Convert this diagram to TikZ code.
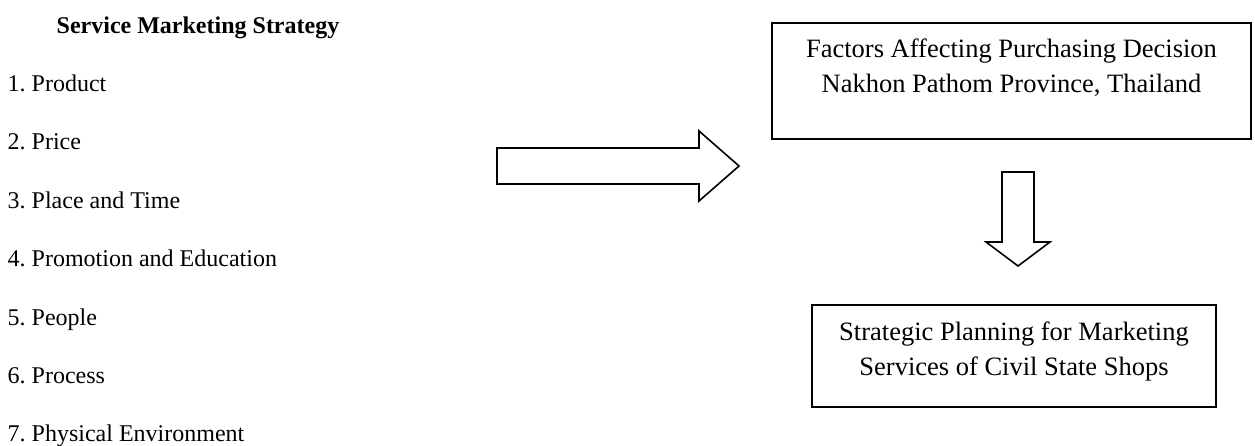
\documentclass[tikz,border=0pt]{standalone}
\usepackage{fontspec}
\setmainfont{Liberation Serif}
\frenchspacing
\begin{document}
\begin{tikzpicture}[x=1pt,y=-1pt,
  listitem/.style={anchor=base west, inner sep=0pt, font=\fontsize{24}{28}\selectfont},
  heading/.style={anchor=base west, inner sep=0pt, font=\bfseries\fontsize{24}{28}\selectfont},
  framebox/.style={draw, line width=1.6pt, inner sep=0pt},
  blockarrow/.style={draw, line width=1.6pt, line join=miter, fill=white}]
\useasboundingbox (0,0) rectangle (1255,445);

% left column: heading and the seven elements
\node[heading] (title) at (56.5,33) {Service Marketing Strategy};
\node[listitem] (i1) at (7.5,91.4)  {1. Product};
\node[listitem] (i2) at (7.5,149.8) {2. Price};
\node[listitem] (i3) at (7.5,208.2) {3. Place and Time};
\node[listitem] (i4) at (7.5,266.6) {4. Promotion and Education};
\node[listitem] (i5) at (7.5,325.0) {5. People};
\node[listitem] (i6) at (7.5,383.4) {6. Process};
\node[listitem] (i7) at (7.5,441.8) {7. Physical Environment};

% right column boxes
\node[framebox] (factors) at (1011.5,81) {\parbox[c][116pt][t]{479pt}{\centering
  \fontsize{26.5}{34.3}\selectfont
  \rule{0pt}{34.7pt}Factors Affecting Purchasing Decision\\
  Nakhon Pathom Province, Thailand}};
\node[framebox] (planning) at (1014,356) {\parbox[c][102pt][t]{404pt}{\centering
  \fontsize{26.5}{35}\selectfont
  \rule{0pt}{35pt}Strategic Planning for Marketing\\
  Services of Civil State Shops}};

% block arrow to the right
\draw[blockarrow] (497,148) -- (699,148) -- (699,131) -- (739,166)
  -- (699,201) -- (699,184) -- (497,184) -- cycle;

% block arrow downwards
\draw[blockarrow] (1002,172) -- (1034,172) -- (1034,242) -- (1050,242)
  -- (1018,266) -- (986,242) -- (1002,242) -- cycle;
\end{tikzpicture}
\end{document}
